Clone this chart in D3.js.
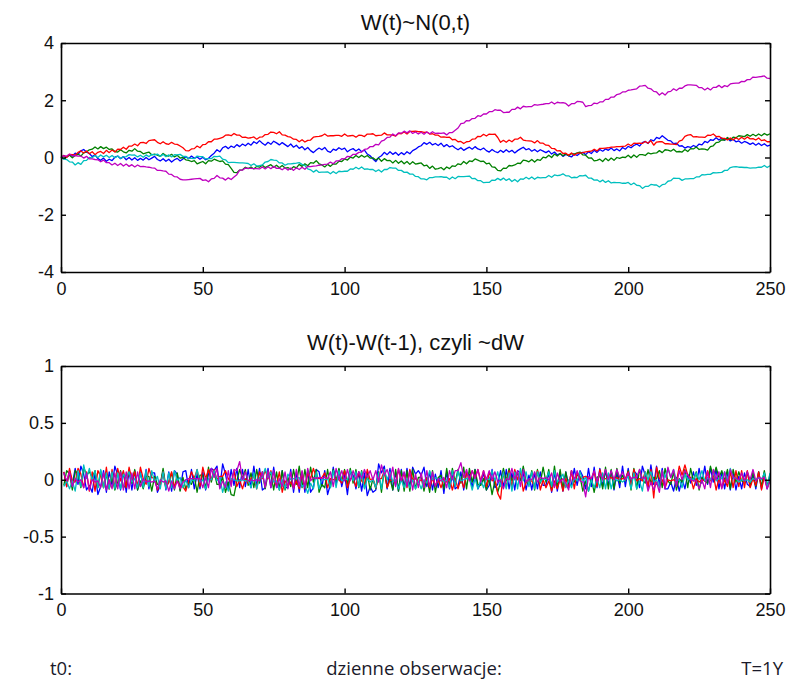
<!DOCTYPE html>
<html>
<head>
<meta charset="utf-8">
<script src="https://cdn.jsdelivr.net/npm/d3@7/dist/d3.min.js"></script>
<style>
  html, body { margin: 0; padding: 0; background: #ffffff; }
  svg { display: block; }
  .tick text { font-family: "Liberation Sans", Arial, sans-serif; font-size: 18px; fill: #111; }
  .title { font-family: "Liberation Sans", Arial, sans-serif; font-size: 22px; fill: #111; }
  .foot { font-family: "Open Sans", sans-serif; font-size: 18.5px; fill: #1a1a2a; }
</style>
</head>
<body>
<svg id="chart" width="795" height="680"></svg>
<script>
// Five simulated Wiener paths W(t), daily steps t = 0..250
const wBlue = [
  0, 0.07, 0.01, 0.09, 0.05, 0.15, 0.11, 0.23, 0.28, 0.19,
  0.14, 0.03, 0.09, -0.04, -0.1, -0.02, -0.13, -0.06, -0.11, 0.01,
  0.05, -0.04, 0.03, -0.08, 0.0, -0.09, -0.01, -0.1, -0.03, -0.09,
  0.0, -0.08, -0.02, 0.04, -0.07, -0.12, -0.04, -0.13, -0.06, -0.16,
  -0.08, -0.03, -0.12, -0.05, 0.03, -0.04, 0.05, -0.03, 0.02, -0.06,
  0.01, -0.08, -0.03, 0.07, 0.15, 0.27, 0.2, 0.34, 0.39, 0.31,
  0.4, 0.35, 0.45, 0.38, 0.47, 0.41, 0.5, 0.43, 0.55, 0.49,
  0.59, 0.5, 0.43, 0.53, 0.46, 0.57, 0.51, 0.44, 0.52, 0.45,
  0.38, 0.47, 0.36, 0.43, 0.32, 0.38, 0.27, 0.35, 0.24, 0.17,
  0.26, 0.33, 0.27, 0.35, 0.22, 0.18, 0.29, 0.25, 0.34, 0.28,
  0.33, 0.2, 0.27, 0.31, 0.23, 0.3, 0.2, 0.26, 0.12, 0.06,
  -0.05, -0.14, 0.0, 0.06, 0.18, 0.1, 0.2, 0.11, 0.18, 0.08,
  0.17, 0.1, 0.2, 0.13, 0.24, 0.29, 0.37, 0.41, 0.52, 0.46,
  0.53, 0.44, 0.49, 0.42, 0.5, 0.38, 0.45, 0.37, 0.41, 0.33,
  0.27, 0.34, 0.25, 0.31, 0.36, 0.29, 0.38, 0.3, 0.27, 0.33,
  0.24, 0.19, 0.28, 0.21, 0.17, 0.25, 0.18, 0.27, 0.19, 0.25,
  0.16, 0.24, 0.3, 0.36, 0.27, 0.31, 0.22, 0.28, 0.2, 0.27,
  0.22, 0.17, 0.23, 0.12, 0.19, 0.09, 0.14, 0.04, 0.11, 0.06,
  0.02, 0.12, 0.07, 0.15, 0.18, 0.1, 0.2, 0.14, 0.25, 0.18,
  0.28, 0.22, 0.3, 0.25, 0.33, 0.24, 0.3, 0.23, 0.35, 0.29,
  0.39, 0.34, 0.42, 0.47, 0.4, 0.52, 0.56, 0.49, 0.62, 0.58,
  0.7, 0.66, 0.76, 0.68, 0.6, 0.58, 0.48, 0.5, 0.4, 0.41,
  0.33, 0.38, 0.35, 0.42, 0.37, 0.47, 0.44, 0.56, 0.52, 0.62,
  0.6, 0.69, 0.61, 0.68, 0.6, 0.67, 0.58, 0.64, 0.55, 0.58,
  0.5, 0.56, 0.52, 0.46, 0.51, 0.43, 0.5, 0.42, 0.48, 0.4,
  0.43
];
const wGreen = [
  0, -0.05, 0.03, 0.08, -0.01, 0.07, 0.12, 0.05, 0.16, 0.2,
  0.27, 0.29, 0.37, 0.3, 0.38, 0.31, 0.36, 0.28, 0.3, 0.21,
  0.19, 0.27, 0.2, 0.16, 0.25, 0.22, 0.31, 0.22, 0.21, 0.13,
  0.16, 0.19, 0.09, 0.12, 0.08, 0.04, 0.14, 0.07, 0.05, 0.11,
  0.02, 0.08, -0.02, 0.0, -0.08, -0.1, -0.14, -0.11, -0.22, -0.18,
  -0.14, -0.22, -0.11, -0.13, -0.06, -0.1, -0.14, -0.12, -0.23, -0.25,
  -0.38, -0.52, -0.53, -0.44, -0.43, -0.34, -0.39, -0.33, -0.4, -0.31,
  -0.34, -0.27, -0.35, -0.3, -0.25, -0.34, -0.27, -0.36, -0.28, -0.37,
  -0.35, -0.41, -0.32, -0.36, -0.24, -0.31, -0.22, -0.29, -0.18, -0.2,
  -0.11, -0.22, -0.26, -0.33, -0.24, -0.31, -0.22, -0.23, -0.13, -0.14,
  -0.05, -0.09, 0.01, -0.02, 0.07, 0.0, 0.08, 0.01, 0.07, -0.02,
  -0.01, -0.09, -0.02, -0.13, -0.04, -0.11, -0.1, -0.19, -0.1, -0.2,
  -0.12, -0.22, -0.14, -0.24, -0.15, -0.23, -0.21, -0.19, -0.29, -0.27,
  -0.38, -0.3, -0.41, -0.39, -0.35, -0.43, -0.33, -0.39, -0.29, -0.31,
  -0.22, -0.25, -0.14, -0.22, -0.12, -0.14, -0.05, -0.09, -0.14, -0.13,
  -0.22, -0.2, -0.33, -0.34, -0.45, -0.47, -0.37, -0.38, -0.28, -0.29,
  -0.26, -0.2, -0.21, -0.09, -0.11, -0.15, -0.07, -0.16, -0.07, -0.1,
  0.01, -0.01, 0.08, 0.0, 0.12, 0.05, 0.14, 0.06, 0.13, 0.06,
  0.14, 0.12, 0.16, 0.19, 0.09, 0.08, -0.02, -0.01, -0.12, -0.1,
  -0.06, -0.14, -0.03, -0.11, -0.02, -0.1, 0.0, -0.03, 0.01, 0.0,
  0.08, -0.01, 0.09, 0.01, 0.1, 0.1, 0.07, 0.16, 0.13, 0.15,
  0.16, 0.24, 0.17, 0.27, 0.26, 0.22, 0.29, 0.2, 0.21, 0.19,
  0.28, 0.21, 0.31, 0.3, 0.37, 0.28, 0.3, 0.29, 0.26, 0.38,
  0.41, 0.52, 0.54, 0.62, 0.61, 0.7, 0.62, 0.71, 0.69, 0.76,
  0.75, 0.73, 0.8, 0.74, 0.81, 0.75, 0.82, 0.76, 0.84, 0.78,
  0.83
];
const wRed = [
  0, 0.07, 0.01, 0.11, 0.1, 0.08, 0.18, 0.23, 0.16, 0.23,
  0.13, 0.2, 0.1, 0.18, 0.21, 0.14, 0.25, 0.17, 0.26, 0.19,
  0.29, 0.28, 0.36, 0.29, 0.4, 0.4, 0.47, 0.41, 0.52, 0.53,
  0.49, 0.59, 0.61, 0.62, 0.53, 0.48, 0.55, 0.48, 0.46, 0.53,
  0.47, 0.46, 0.4, 0.34, 0.24, 0.23, 0.3, 0.31, 0.4, 0.34,
  0.45, 0.46, 0.55, 0.55, 0.64, 0.64, 0.67, 0.7, 0.78, 0.79,
  0.76, 0.84, 0.78, 0.78, 0.7, 0.71, 0.68, 0.69, 0.72, 0.64,
  0.71, 0.72, 0.8, 0.81, 0.89, 0.88, 0.83, 0.9, 0.79, 0.78,
  0.73, 0.71, 0.64, 0.63, 0.55, 0.62, 0.54, 0.6, 0.61, 0.71,
  0.73, 0.74, 0.76, 0.82, 0.75, 0.76, 0.76, 0.77, 0.77, 0.74,
  0.82, 0.75, 0.76, 0.77, 0.71, 0.78, 0.77, 0.73, 0.82, 0.82,
  0.83, 0.76, 0.77, 0.78, 0.86, 0.79, 0.79, 0.78, 0.75, 0.84,
  0.83, 0.89, 0.82, 0.91, 0.91, 0.92, 0.9, 0.9, 0.88, 0.89,
  0.82, 0.83, 0.78, 0.78, 0.71, 0.72, 0.7, 0.71, 0.62, 0.63,
  0.55, 0.56, 0.49, 0.55, 0.56, 0.64, 0.65, 0.74, 0.73, 0.81,
  0.75, 0.82, 0.81, 0.82, 0.7, 0.53, 0.6, 0.53, 0.61, 0.55,
  0.64, 0.64, 0.71, 0.61, 0.59, 0.58, 0.57, 0.51, 0.59, 0.5,
  0.5, 0.43, 0.42, 0.32, 0.31, 0.23, 0.24, 0.14, 0.15, 0.08,
  0.16, 0.08, 0.15, 0.15, 0.17, 0.2, 0.21, 0.22, 0.29, 0.23,
  0.32, 0.32, 0.33, 0.34, 0.36, 0.36, 0.38, 0.38, 0.39, 0.4,
  0.47, 0.41, 0.5, 0.49, 0.5, 0.49, 0.56, 0.5, 0.59, 0.43,
  0.54, 0.55, 0.55, 0.48, 0.48, 0.47, 0.47, 0.45, 0.57, 0.61,
  0.74, 0.78, 0.8, 0.72, 0.73, 0.71, 0.71, 0.7, 0.78, 0.77,
  0.82, 0.73, 0.74, 0.67, 0.67, 0.61, 0.68, 0.61, 0.69, 0.63,
  0.71, 0.64, 0.72, 0.65, 0.66, 0.61, 0.68, 0.59, 0.62, 0.55,
  0.55
];
const wCyan = [
  0, -0.06, -0.07, -0.15, -0.16, -0.26, -0.18, -0.24, -0.11, -0.1,
  0.0, -0.01, 0.07, 0.0, 0.09, 0.02, 0.08, 0.0, 0.07, -0.01,
  0.05, -0.03, 0.02, 0.03, 0.1, 0.08, 0.09, 0.02, 0.08, 0.01,
  0.09, 0.03, 0.11, 0.09, 0.12, 0.04, 0.11, 0.03, 0.09, 0.02,
  0.1, 0.09, 0.11, 0.04, 0.04, -0.03, -0.03, -0.04, 0.05, 0.03,
  0.03, -0.05, -0.04, -0.04, 0.04, 0.03, 0.05, -0.06, -0.08, -0.18,
  -0.17, -0.17, -0.18, -0.19, -0.19, -0.2, -0.21, -0.28, -0.22, -0.3,
  -0.28, -0.26, -0.16, -0.14, -0.07, -0.09, -0.1, -0.19, -0.19, -0.27,
  -0.22, -0.22, -0.21, -0.2, -0.18, -0.24, -0.28, -0.4, -0.43, -0.51,
  -0.44, -0.52, -0.51, -0.51, -0.5, -0.57, -0.49, -0.56, -0.48, -0.49,
  -0.48, -0.48, -0.4, -0.41, -0.34, -0.4, -0.33, -0.41, -0.4, -0.42,
  -0.42, -0.49, -0.43, -0.51, -0.42, -0.42, -0.35, -0.37, -0.37, -0.45,
  -0.45, -0.52, -0.51, -0.58, -0.58, -0.66, -0.67, -0.75, -0.75, -0.78,
  -0.7, -0.7, -0.68, -0.68, -0.67, -0.69, -0.69, -0.76, -0.68, -0.74,
  -0.66, -0.67, -0.67, -0.66, -0.65, -0.74, -0.73, -0.81, -0.81, -0.88,
  -0.87, -0.87, -0.79, -0.8, -0.73, -0.79, -0.72, -0.8, -0.74, -0.84,
  -0.77, -0.85, -0.75, -0.76, -0.69, -0.75, -0.68, -0.76, -0.69, -0.71,
  -0.7, -0.7, -0.63, -0.69, -0.61, -0.63, -0.62, -0.57, -0.64, -0.64,
  -0.71, -0.69, -0.7, -0.63, -0.64, -0.62, -0.72, -0.72, -0.79, -0.78,
  -0.85, -0.79, -0.87, -0.81, -0.89, -0.87, -0.88, -0.88, -0.9, -0.9,
  -0.87, -0.95, -0.89, -0.97, -0.98, -1.08, -1.01, -1.01, -0.94, -0.96,
  -0.96, -1.03, -0.95, -0.93, -0.83, -0.81, -0.72, -0.73, -0.73, -0.8,
  -0.75, -0.75, -0.74, -0.74, -0.68, -0.68, -0.6, -0.61, -0.59, -0.59,
  -0.53, -0.54, -0.53, -0.52, -0.45, -0.45, -0.35, -0.33, -0.32, -0.34,
  -0.34, -0.35, -0.35, -0.37, -0.36, -0.36, -0.34, -0.34, -0.28, -0.35,
  -0.29
];
const wMagenta = [
  0, 0.06, 0.05, 0.12, 0.06, 0.07, 0.05, 0.05, -0.02, 0.04,
  -0.05, -0.05, -0.07, -0.08, -0.15, -0.09, -0.18, -0.18, -0.26, -0.2,
  -0.28, -0.21, -0.3, -0.23, -0.31, -0.25, -0.33, -0.26, -0.32, -0.31,
  -0.33, -0.34, -0.36, -0.37, -0.45, -0.45, -0.47, -0.48, -0.58, -0.59,
  -0.67, -0.68, -0.76, -0.78, -0.78, -0.77, -0.76, -0.75, -0.74, -0.73,
  -0.8, -0.78, -0.85, -0.75, -0.73, -0.63, -0.71, -0.72, -0.79, -0.71,
  -0.77, -0.68, -0.6, -0.44, -0.44, -0.37, -0.38, -0.38, -0.39, -0.39,
  -0.4, -0.33, -0.4, -0.32, -0.39, -0.31, -0.38, -0.37, -0.43, -0.36,
  -0.44, -0.37, -0.45, -0.36, -0.42, -0.34, -0.41, -0.31, -0.32, -0.3,
  -0.29, -0.27, -0.26, -0.24, -0.23, -0.16, -0.22, -0.12, -0.12, -0.04,
  -0.05, 0.04, 0.03, 0.11, 0.11, 0.18, 0.19, 0.28, 0.3, 0.38,
  0.38, 0.46, 0.44, 0.57, 0.61, 0.7, 0.71, 0.82, 0.76, 0.86,
  0.85, 0.92, 0.86, 0.93, 0.84, 0.89, 0.82, 0.88, 0.81, 0.89,
  0.83, 0.9, 0.84, 0.85, 0.84, 0.86, 0.79, 0.87, 0.87, 0.95,
  1.03, 1.18, 1.2, 1.29, 1.28, 1.36, 1.37, 1.46, 1.44, 1.52,
  1.52, 1.6, 1.6, 1.67, 1.65, 1.65, 1.57, 1.58, 1.58, 1.68,
  1.68, 1.76, 1.7, 1.79, 1.77, 1.78, 1.78, 1.85, 1.83, 1.85,
  1.86, 1.88, 1.88, 1.94, 1.87, 1.93, 1.91, 1.92, 1.89, 1.8,
  1.88, 1.88, 1.96, 1.95, 1.93, 1.78, 1.81, 1.82, 1.9, 1.88,
  1.94, 1.94, 2.03, 2.03, 2.11, 2.11, 2.2, 2.22, 2.29, 2.29,
  2.35, 2.36, 2.38, 2.4, 2.49, 2.5, 2.52, 2.42, 2.4, 2.31,
  2.29, 2.18, 2.26, 2.18, 2.29, 2.31, 2.4, 2.34, 2.42, 2.42,
  2.5, 2.54, 2.54, 2.53, 2.52, 2.44, 2.44, 2.36, 2.43, 2.36,
  2.45, 2.45, 2.52, 2.44, 2.51, 2.48, 2.57, 2.59, 2.6, 2.6,
  2.66, 2.65, 2.72, 2.72, 2.81, 2.8, 2.82, 2.83, 2.85, 2.77,
  2.76
];

const seriesValues = [wBlue, wGreen, wRed, wCyan, wMagenta];
const seriesColors = ["#0000ff", "#008000", "#ff0000", "#00bfbf", "#bf00bf"];

const xTicks = [0, 50, 100, 150, 200, 250];
const topYTicks = [-4, -2, 0, 2, 4];
const bottomYTicks = [-1, -0.5, 0, 0.5, 1];

const topTitle = "W(t)~N(0,t)";
const bottomTitle = "W(t)-W(t-1), czyli ~dW";
const footLabels = ["t0:", "dzienne obserwacje:", "T=1Y"];

const svg = d3.select("#chart");
svg.append("rect").attr("width", 795).attr("height", 680).attr("fill", "#fff");

const x = d3.scaleLinear().domain([0, 250]).range([61, 770]);

// Draw one boxed panel with inward ticks on all four sides
function panel(yDomain, yRange, yTicks, title, titleY, lines) {
  const y = d3.scaleLinear().domain(yDomain).range(yRange);
  const g = svg.append("g");

  const line = d3.line().x(d => x(d[0])).y(d => y(d[1]));
  lines.forEach((pts, i) => {
    g.append("path")
      .attr("d", line(pts))
      .attr("fill", "none")
      .attr("stroke", seriesColors[i])
      .attr("stroke-width", 1.3)
      .attr("stroke-linejoin", "round");
  });

  const fmt = v => String(v);
  const bottom = g.append("g").attr("transform", `translate(0,${yRange[0]})`)
    .call(d3.axisBottom(x).tickValues(xTicks).tickFormat(fmt).tickSizeInner(-5).tickSizeOuter(0).tickPadding(10));
  const top = g.append("g").attr("transform", `translate(0,${yRange[1]})`)
    .call(d3.axisTop(x).tickValues(xTicks).tickFormat("").tickSizeInner(-5).tickSizeOuter(0));
  const left = g.append("g").attr("transform", `translate(${x.range()[0]},0)`)
    .call(d3.axisLeft(y).tickValues(yTicks).tickFormat(fmt).tickSizeInner(-5).tickSizeOuter(0).tickPadding(7));
  const right = g.append("g").attr("transform", `translate(${x.range()[1]},0)`)
    .call(d3.axisRight(y).tickValues(yTicks).tickFormat("").tickSizeInner(-5).tickSizeOuter(0));

  [bottom, top, left, right].forEach(a => {
    a.attr("font-family", null).attr("font-size", null);
    a.select(".domain").attr("stroke", "#000").attr("stroke-width", 1.6);
    a.selectAll(".tick line").attr("stroke", "#000").attr("stroke-width", 1.4);
  });
  bottom.selectAll(".tick text").attr("dy", "0.72em");

  svg.append("text").attr("class", "title")
    .attr("x", (x.range()[0] + x.range()[1]) / 2).attr("y", titleY)
    .attr("text-anchor", "middle").text(title);
}

// Top panel: the paths themselves
panel([-4, 4], [272, 43], topYTicks, topTitle, 30,
  seriesValues.map(s => s.map((v, t) => [t, v])));

// Bottom panel: daily increments W(t) - W(t-1)
panel([-1, 1], [593.5, 366], bottomYTicks, bottomTitle, 350,
  seriesValues.map(s => s.slice(1).map((v, i) => [i + 1, +(v - s[i]).toFixed(2)])));

// Footer annotations
svg.append("text").attr("class", "foot").attr("x", 50).attr("y", 675).text(footLabels[0]);
svg.append("text").attr("class", "foot").attr("x", 414).attr("y", 675).attr("text-anchor", "middle").text(footLabels[1]);
svg.append("text").attr("class", "foot").attr("x", 783).attr("y", 675).attr("text-anchor", "end").text(footLabels[2]);
</script>
</body>
</html>
